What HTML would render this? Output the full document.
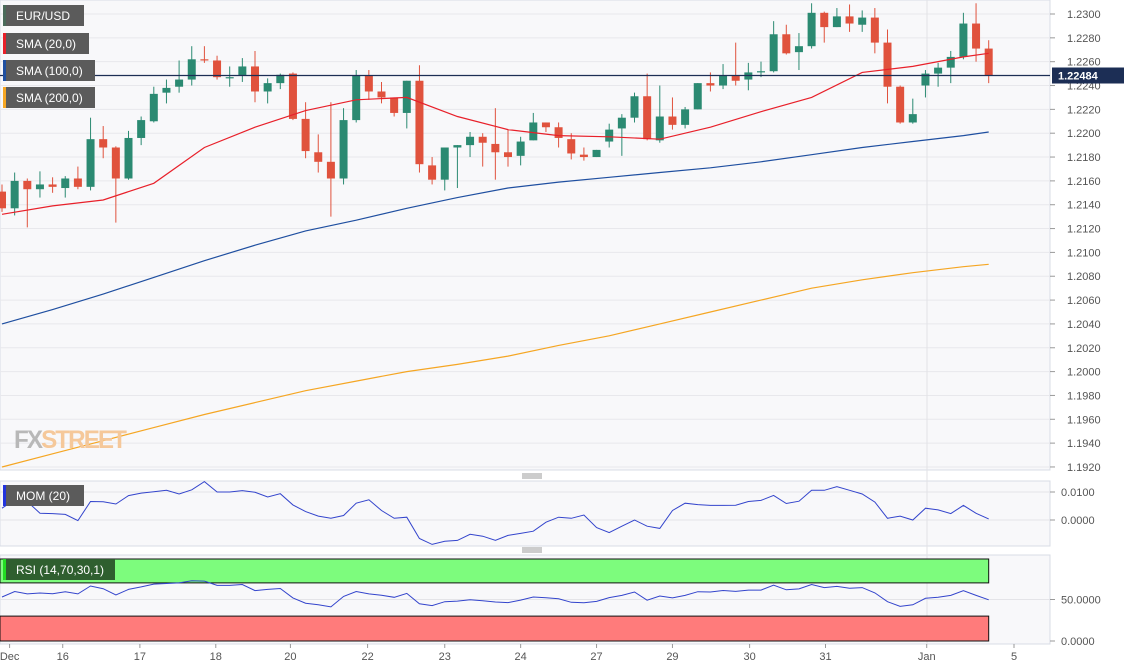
<!DOCTYPE html>
<html><head><meta charset="utf-8"><style>
html,body{margin:0;padding:0;background:#fff;}
body{width:1136px;height:669px;overflow:hidden;font-family:"Liberation Sans",sans-serif;}
svg{display:block}
</style></head><body>
<svg id="chart" width="1136" height="669" xmlns="http://www.w3.org/2000/svg"></svg>
<script>
const opens=[1.2151,1.2137,1.2160,1.2153,1.2157,1.2154,1.2162,1.2155,1.2195,1.2188,1.2162,1.2196,1.2210,1.2234,1.2239,1.2245,1.2262,1.2261,1.2246,1.2248,1.2256,1.2235,1.2242,1.2250,1.2212,1.2184,1.2176,1.2162,1.2211,1.2248,1.2235,1.2230,1.2217,1.2244,1.2173,1.2161,1.2188,1.2190,1.2197,1.2191,1.2184,1.2181,1.2194,1.2209,1.2205,1.2195,1.2182,1.2180,1.2193,1.2204,1.2213,1.2231,1.2194,1.2214,1.2207,1.2220,1.2242,1.2240,1.2248,1.2245,1.2251,1.2252,1.2283,1.2268,1.2273,1.2301,1.2289,1.2298,1.2291,1.2297,1.2276,1.2239,1.2209,1.2240,1.2250,1.2255,1.2264,1.2292,1.2271];
const closes=[1.2137,1.2160,1.2153,1.2157,1.2155,1.2162,1.2155,1.2195,1.2188,1.2162,1.2196,1.2211,1.2233,1.2238,1.2245,1.2262,1.2261,1.2247,1.2247,1.2256,1.2235,1.2242,1.2249,1.2212,1.2185,1.2176,1.2162,1.2211,1.2248,1.2235,1.2230,1.2217,1.2244,1.2174,1.2161,1.2188,1.2190,1.2197,1.2192,1.2184,1.2180,1.2193,1.2209,1.2205,1.2196,1.2183,1.2180,1.2186,1.2203,1.2213,1.2231,1.2195,1.2214,1.2207,1.2220,1.2242,1.2240,1.2248,1.2244,1.2251,1.2252,1.2283,1.2267,1.2273,1.2301,1.2289,1.2298,1.2292,1.2297,1.2276,1.2239,1.2209,1.2216,1.2250,1.2255,1.2264,1.2292,1.2271,1.22484];
const highs=[1.2157,1.2167,1.2162,1.2168,1.2163,1.2164,1.2172,1.2213,1.2206,1.2189,1.2202,1.2214,1.2239,1.2245,1.2261,1.2273,1.2273,1.2265,1.2256,1.2263,1.2269,1.2246,1.2250,1.2251,1.2226,1.2199,1.2226,1.2221,1.2253,1.2253,1.2243,1.2230,1.2244,1.2257,1.2180,1.2188,1.2190,1.2201,1.2200,1.2221,1.2203,1.2197,1.2217,1.2209,1.2209,1.2200,1.2188,1.2186,1.2208,1.2216,1.2234,1.2250,1.2240,1.2230,1.2222,1.2242,1.2251,1.2258,1.2276,1.2259,1.2260,1.2294,1.2291,1.2284,1.2309,1.2302,1.2305,1.2308,1.2303,1.2305,1.2287,1.2240,1.2229,1.2253,1.2259,1.2269,1.2301,1.2309,1.2278];
const lows=[1.2134,1.2131,1.2121,1.2146,1.2150,1.2146,1.2153,1.2152,1.2179,1.2125,1.2161,1.2190,1.2209,1.2225,1.2234,1.2240,1.2259,1.2245,1.2239,1.2243,1.2226,1.2225,1.2237,1.2211,1.2179,1.2167,1.2130,1.2157,1.2209,1.2228,1.2225,1.2214,1.2204,1.2167,1.2157,1.2152,1.2154,1.2180,1.2172,1.2161,1.2172,1.2173,1.2194,1.2201,1.2188,1.2178,1.2177,1.2180,1.2188,1.2181,1.2209,1.2194,1.2192,1.2203,1.2204,1.2220,1.2235,1.2237,1.2240,1.2236,1.2247,1.2251,1.2266,1.2253,1.2271,1.2276,1.2289,1.2285,1.2285,1.2267,1.2225,1.2208,1.2208,1.2230,1.2239,1.2242,1.2262,1.2260,1.2242];
const smaIdx=[0,4,8,12,16,20,24,28,32,36,40,44,48,52,56,60,64,68,72,76,78];
const sma20=[1.2132,1.2139,1.2144,1.2158,1.2188,1.2205,1.2219,1.2228,1.2230,1.2214,1.2203,1.2198,1.2197,1.2195,1.2205,1.2218,1.2230,1.2251,1.2256,1.2264,1.2267];
const sma100=[1.2040,1.2052,1.2065,1.2079,1.2093,1.2106,1.2118,1.2127,1.2137,1.2146,1.2154,1.2159,1.2163,1.2167,1.2171,1.2176,1.2182,1.2188,1.2193,1.2198,1.2201];
const sma200=[1.1920,1.1931,1.1942,1.1953,1.1964,1.1974,1.1984,1.1992,1.2000,1.2006,1.2013,1.2022,1.2030,1.2040,1.2050,1.2060,1.2070,1.2077,1.2083,1.2088,1.2090];
const mom=[0.0042,0.0072,0.0066,0.0024,0.0023,0.0020,-0.0002,0.0066,0.0065,0.0057,0.0087,0.0096,0.0101,0.0106,0.0093,0.0108,0.0137,0.0100,0.0100,0.0105,0.0099,0.0082,0.0094,0.0054,0.0030,0.0014,0.0006,0.0016,0.0060,0.0072,0.0034,0.0006,0.0010,-0.0066,-0.0087,-0.0076,-0.0073,-0.0051,-0.0058,-0.0073,-0.0055,-0.0048,-0.0040,-0.0008,0.0010,0.0006,0.0018,-0.0027,-0.0045,-0.0022,0.0000,-0.0022,-0.0030,0.0034,0.0060,0.0055,0.0052,0.0052,0.0053,0.0066,0.0070,0.0088,0.0059,0.0067,0.0106,0.0106,0.0119,0.0106,0.0093,0.0064,0.0006,0.0014,0.0000,0.0042,0.0036,0.0023,0.0052,0.0024,0.0004];
const rsi=[53,59.6,56.7,57.8,57,59.3,56.7,66.3,63,55.6,62.2,65.2,68.5,69.3,70,72.6,72.2,67,67,68.1,60.7,62.2,63.3,51.9,45.6,43.7,41.1,53.7,59.6,56.7,55.2,52.6,57.4,44.8,42.6,47.4,48.1,49.6,48.5,47,46.3,49.3,53,52.2,50.8,46.6,46.2,47.7,52.3,54.9,59,49.2,54.2,51.9,54.9,59.4,59,60.9,59.8,61.3,61.3,67.4,61.7,62.8,68.1,64.3,65.8,63.6,64.3,57.9,47.4,41.7,43.6,51.5,52.6,54.9,60.6,54.9,49.6];
const priceTicks=["1.1920","1.1940","1.1960","1.1980","1.2000","1.2020","1.2040","1.2060","1.2080","1.2100","1.2120","1.2140","1.2160","1.2180","1.2200","1.2220","1.2240","1.2260","1.2280","1.2300"];
const dateLabels=["Dec","16","17","18","20","22","23","24","27","29","30","31","Jan","5"];
const dateIdx=[0.6,4.8,10.9,16.9,22.8,28.9,35,41,47,53,59.1,65.1,73.1,80];
const lastPrice=1.22484;

const NS="http://www.w3.org/2000/svg";
const svg=document.getElementById('chart');
function el(tag,attrs,parent){const e=document.createElementNS(NS,tag);for(const k in attrs)e.setAttribute(k,attrs[k]);(parent||svg).appendChild(e);return e;}
const X=i=>2+12.65*i;
const Y=p=>14+(1.2300-p)/0.0020*23.84;
const YM=v=>520-v/0.01*28;
const YR=v=>641-v*0.83;
const PR=1050;

let g=el('rect',{x:0,y:0,width:PR,height:470,fill:'#f8f8fa',stroke:'#d8dce6'});

g=el('rect',{x:0,y:481,width:PR,height:65,fill:'#f8f8fa',stroke:'#d8dce6'});

g=el('rect',{x:0,y:555,width:PR,height:89,fill:'#f8f8fa',stroke:'#d8dce6'});


priceTicks.forEach(t=>{const y=Y(parseFloat(t));
 el('line',{x1:0,x2:PR,y1:y,y2:y,stroke:'#e8e8ec'});
 el('line',{x1:PR,x2:PR+5,y1:y,y2:y,stroke:'#999'});
 const tx=el('text',{x:PR+17,y:y+4,'font-size':11,fill:'#555'});tx.textContent=t;
 });
[927].forEach(x=>{el('line',{x1:x,x2:x,y1:0,y2:644,stroke:'#e2e2e6'});});

function smaPath(arr,color,name){const d=arr.map((v,k)=>(k?'L':'M')+X(smaIdx[k]).toFixed(1)+','+Y(v).toFixed(1)).join('');
 const p=el('path',{d:d,fill:'none',stroke:color,'stroke-width':1.2});}
smaPath(sma200,'#f5a623','sma-200-line');
smaPath(sma100,'#1f4fa0','sma-100-line');

opens.forEach((o,i)=>{const c=closes[i],up=c>=o,col=up?'#2b8a72':'#e0523d',x=X(i);
 const w=el('line',{x1:x,x2:x,y1:Y(highs[i]),y2:Y(lows[i]),stroke:col,'stroke-width':1});
 
 const yt=Y(Math.max(o,c)),yb=Y(Math.min(o,c));
 const b=el('rect',{x:x-4,y:yt,width:8,height:Math.max(1,yb-yt),fill:col});
 });
smaPath(sma20,'#e8202a','sma-20-line');

const ly=Y(lastPrice);
g=el('line',{x1:0,x2:PR,y1:ly,y2:ly,stroke:'#1c2e55','stroke-width':1.2});

g=el('rect',{x:PR+2,y:ly-8,width:72,height:16,fill:'#1c2e55'});

g=el('text',{x:PR+8,y:ly+4,'font-size':11,'font-weight':'bold',fill:'#fff'});g.textContent=lastPrice.toFixed(5);


[0.01,0].forEach(v=>{const y=YM(v);el('line',{x1:0,x2:PR,y1:y,y2:y,stroke:'#e4e4e8'});el('line',{x1:PR,x2:PR+5,y1:y,y2:y,stroke:'#999'});
 const t=el('text',{x:PR+11,y:y+4,'font-size':11,fill:'#555'});t.textContent=v.toFixed(4);
 });
g=el('path',{d:mom.map((v,i)=>(i?'L':'M')+X(i).toFixed(1)+','+YM(v).toFixed(1)).join(''),fill:'none',stroke:'#3344cc','stroke-width':1});


const bx=X(opens.length-1);
g=el('rect',{x:0,y:YR(100)+1,width:bx,height:YR(70)-YR(100)-1,fill:'#7dfc7d',stroke:'#111'});

g=el('rect',{x:0,y:YR(30),width:bx,height:YR(0)-YR(30),fill:'#ff7b7b',stroke:'#111'});

[50,0].forEach(v=>{const y=YR(v);if(v)el('line',{x1:0,x2:PR,y1:y,y2:y,stroke:'#e4e4e8'});el('line',{x1:PR,x2:PR+5,y1:y,y2:y,stroke:'#999'});
 const t=el('text',{x:PR+11,y:y+4,'font-size':11,fill:'#555'});t.textContent=v.toFixed(4);
 });
g=el('path',{d:rsi.map((v,i)=>(i?'L':'M')+X(i).toFixed(1)+','+YR(v).toFixed(1)).join(''),fill:'none',stroke:'#3344cc','stroke-width':1});


dateLabels.forEach((d,k)=>{const x=X(dateIdx[k]);el('line',{x1:x,x2:x,y1:644,y2:648,stroke:'#999'});
 const t=el('text',{x:x,y:660,'font-size':11,fill:'#555','text-anchor':'middle'});t.textContent=d;
 });

[476,550].forEach(y=>{for(let k=0;k<3;k++)el('line',{x1:522,x2:542,y1:y-2+k*2,y2:y-2+k*2,stroke:'#777','stroke-width':0.8});});

g=el('text',{x:14,y:448,'font-size':25,'font-weight':'bold',fill:'#b8b8b8','letter-spacing':'-2',textLength:111,lengthAdjust:'spacingAndGlyphs'});

g.innerHTML='FX<tspan fill="#f5c89a">STREET</tspan>';

function legend(y,w,txt,strip,name,bg){const r=el('rect',{x:3,y:y,width:w,height:21,fill:bg||'#5b5b5b'});
 
 el('rect',{x:3,y:y,width:3,height:21,fill:strip});
 const t=el('text',{x:16,y:y+15,'font-size':12,fill:'#fff'});t.textContent=txt;
 }
legend(5,81,'EUR/USD','#4a6a5a','legend-eurusd');
legend(33,86,'SMA (20,0)','#e8202a','legend-sma-20');
legend(60,92,'SMA (100,0)','#1f4fa0','legend-sma-100');
legend(87,92,'SMA (200,0)','#f5a623','legend-sma-200');
legend(485,81,'MOM (20)','#2233dd','legend-mom');
legend(559,112,'RSI (14,70,30,1)','#22dd22','legend-rsi','#2f5f2f');
</script>
</body></html>
